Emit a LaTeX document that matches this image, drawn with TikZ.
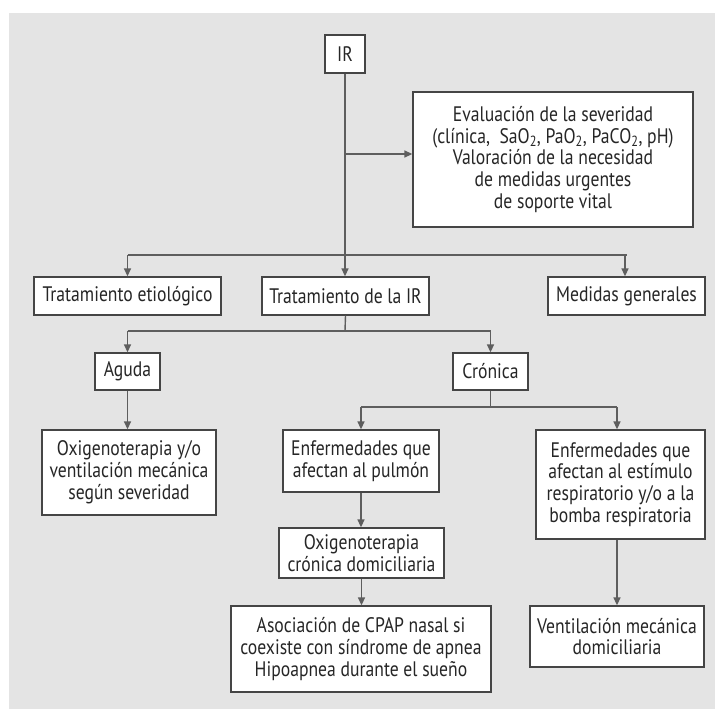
\documentclass[tikz,border=0pt]{standalone}
\usepackage{fontspec}
\setmainfont{PT Sans}[FakeStretch=0.84]
\usetikzlibrary{arrows.meta}
\definecolor{bggray}{HTML}{E4E4E4}
\definecolor{linegray}{HTML}{5E5E5E}
\definecolor{boxline}{HTML}{454545}
\definecolor{txt}{HTML}{262626}
\tikzset{
  box/.style={draw=boxline, line width=1.3pt, fill=white, inner sep=0pt, align=center,
    text=txt, font=\fontsize{21}{21.8}\selectfont},
  conn/.style={draw=linegray, line width=1.4pt},
  arr/.style={conn, -{Triangle[length=8pt,width=7pt]}},
}
\begin{document}
\begin{tikzpicture}[x=1pt,y=-1pt]
\useasboundingbox (0,0) rectangle (715,709);
\fill[bggray] (9,13) rectangle (715,709);

\node[box, minimum width=40pt, minimum height=38pt] (ir) at (345,54) {IR};
\node[box, minimum width=280pt, minimum height=135pt] (eval) at (553,159.5)
  {Evaluación de la severidad\\(clínica,\ \ SaO\textsubscript{2}, PaO\textsubscript{2}, PaCO\textsubscript{2}, pH)\\Valoración de la necesidad\\de medidas urgentes\\de soporte vital};
\node[box, minimum width=187pt, minimum height=38pt] (etio) at (127.5,296) {Tratamiento etiológico};
\node[box, minimum width=167pt, minimum height=38pt] (trat) at (345.5,296) {Tratamiento de la IR};
\node[box, minimum width=157pt, minimum height=38pt] (med) at (626.5,296) {Medidas generales};
\node[box, minimum width=65pt, minimum height=37pt] (aguda) at (127.5,371.5) {Aguda};
\node[box, minimum width=75pt, minimum height=37pt] (cron) at (490.5,371.5) {Crónica};
\node[box, minimum width=174pt, minimum height=85pt] (oxi1) at (129,472.5)
  {Oxigenoterapia y/o\\ventilación mecánica\\según severidad};
\node[box, minimum width=156pt, minimum height=62pt] (enf1) at (361,461)
  {Enfermedades que\\afectan al pulmón};
\node[box, minimum width=169pt, minimum height=109pt] (enf2) at (620.5,484.5)
  {Enfermedades que\\afectan al estímulo\\respiratorio y/o a la\\bomba respiratoria};
\node[box, minimum width=165pt, minimum height=50pt] (oxi2) at (361.5,553)
  {Oxigenoterapia\\crónica domiciliaria};
\node[box, minimum width=260pt, minimum height=86pt] (asoc) at (361,649)
  {Asociación de CPAP nasal si\\coexiste con síndrome de apnea\\Hipoapnea durante el sueño};
\node[box, minimum width=174pt, minimum height=61pt] (vent) at (617,636.5)
  {Ventilación mecánica\\domiciliaria};

% branch points
\coordinate (b1) at (345,255);
\coordinate (e1) at (345,154);
\coordinate (b2) at (345,331);
\coordinate (b3) at (491,407);

% IR trunk
\draw[arr] (ir.south) -- (ir.south |- trat.north);
\draw[arr] (e1) -- (eval.west |- e1);
\draw[conn] (b1 -| etio) -- (b1 -| med);
\draw[arr] (b1 -| etio) -- (etio.north);
\draw[arr] (b1 -| 625,0) -- (625,0 |- med.north);

% Tratamiento de la IR
\draw[conn] (trat.south) -- (b2);
\draw[conn] (b2 -| aguda) -- (b2 -| cron);
\draw[arr] (b2 -| aguda) -- (aguda.north);
\draw[arr] (b2 -| cron) -- (cron.north);
\draw[arr] (aguda.south) -- (aguda.south |- oxi1.north);

% Crónica
\draw[conn] (cron.south) -- (cron.south |- b3);
\draw[conn] (b3 -| enf1) -- (b3 -| 617,0);
\draw[arr] (b3 -| enf1) -- (enf1.north);
\draw[arr] (b3 -| 617,0) -- (617,0 |- enf2.north);
\draw[arr] (enf1.south) -- (enf1.south |- oxi2.north);
\draw[arr] (oxi2.south) -- (oxi2.south |- asoc.north);
\draw[arr] (617,0 |- enf2.south) -- (617,0 |- vent.north);
\end{tikzpicture}
\end{document}
